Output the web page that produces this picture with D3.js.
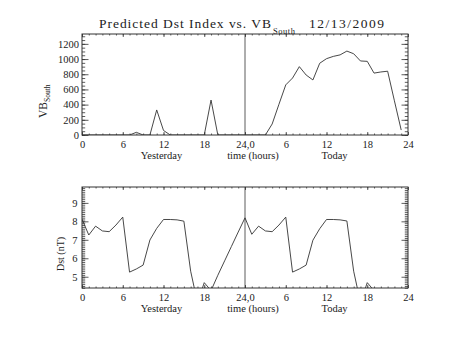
<!DOCTYPE html>
<html><head><meta charset="utf-8">
<script src="https://cdn.jsdelivr.net/npm/d3@7"></script>
<style>
html,body{margin:0;padding:0;background:#fff;}
text{font-family:"Liberation Serif",serif;fill:#222;}
</style></head>
<body><svg id="c" width="453" height="340"></svg>
<script>
// ---- data ----
const hours = d3.range(0, 48);            // 0..23 yesterday, 24..47 today
const xTickValues = [0, 6, 12, 18, 24, 30, 36, 42, 48];
const xTickLabels = ["0", "6", "12", "18", "24,0", "6", "12", "18", "24"];
const vbTicks = [0, 200, 400, 600, 800, 1000, 1200];
const dstTicks = [5, 6, 7, 8, 9];
// VB_South, hourly (yesterday then today)
const vbYesterday = [0,0,0,0,0,0,0,0,35,0,0,330,60,0,0,0,0,0,0,460,0,0,0,0];
const vbToday = [0,0,0,0,145,405,660,750,900,790,725,945,1005,1035,1055,1105,1070,975,970,815,830,840,450,65];
// Dst, hourly (null = no data)
const dstYesterday = [8.12,7.26,7.74,7.48,7.44,7.8,8.23,5.25,5.42,5.63,6.99,7.62,8.1,8.1,8.08,8.01,5.3,3.6,4.68,4.25,5.08,5.86,6.64,7.42];
const dstToday = [8.19,7.3,7.74,7.48,7.44,7.8,8.23,5.25,5.42,5.63,6.98,7.6,8.1,8.1,8.08,8.02,5.3,3.6,4.68,4.25,null,null,null,null];

const vb = hours.map((h,i)=>({h, v: i<24 ? vbYesterday[i] : vbToday[i-24]}));
const dst = hours.map((h,i)=>({h, v: i<24 ? dstYesterday[i] : dstToday[i-24]}));

const svg = d3.select("#c");
const L = 82, R = 408;
const x = d3.scaleLinear().domain([0,48]).range([L,R]);
const panels = [
  {top:34, bot:135, y:d3.scaleLinear().domain([0,1330]).range([135,34]),
   major:vbTicks, minor:d3.range(0,1330,50), data:vb, lblPad:3},
  {top:187, bot:288, y:d3.scaleLinear().domain([4.39,9.86]).range([288,187]),
   major:dstTicks, minor:d3.range(44,99).map(d=>d/10), data:dst, lblPad:4.5}
];
const stroke = "#333";
const FONT = "Liberation Serif";

panels.forEach((p,pi)=>{
  const g = svg.append("g");
  const h = p.bot - p.top, w = R - L;
  const cid = "clip"+pi;
  svg.append("clipPath").attr("id",cid).append("rect")
    .attr("x",L).attr("y",p.top).attr("width",w).attr("height",h);
  const xMajLen = 3, xMinLen = 1.5, yMajLen = 6.5, yMinLen = 3.2;
  const ax = (gen, tr) => g.append("g").attr("transform",tr).call(gen)
      .call(s=>s.select(".domain").remove())
      .call(s=>s.selectAll("line").attr("stroke",stroke).attr("stroke-width",0.8));
  ax(d3.axisBottom(x).tickValues(xTickValues).tickSize(-xMajLen).tickPadding(6)
      .tickFormat((d,i)=>xTickLabels[i]), `translate(0,${p.bot})`)
    .selectAll("text").attr("font-size",10.5).attr("font-family",FONT).attr("fill","#222");
  ax(d3.axisBottom(x).tickValues(hours).tickSize(-xMinLen).tickFormat(""), `translate(0,${p.bot})`);
  ax(d3.axisTop(x).tickValues(xTickValues).tickSize(-xMajLen).tickFormat(""), `translate(0,${p.top})`);
  ax(d3.axisTop(x).tickValues(hours).tickSize(-xMinLen).tickFormat(""), `translate(0,${p.top})`);
  ax(d3.axisLeft(p.y).tickValues(p.major).tickSize(-yMajLen).tickPadding(p.lblPad)
      .tickFormat(d=>d), `translate(${L},0)`)
    .selectAll("text").attr("font-size",10.5).attr("font-family",FONT).attr("fill","#222");
  ax(d3.axisLeft(p.y).tickValues(p.minor).tickSize(-yMinLen).tickFormat(""), `translate(${L},0)`);
  ax(d3.axisRight(p.y).tickValues(p.major).tickSize(-yMajLen).tickFormat(""), `translate(${R},0)`);
  ax(d3.axisRight(p.y).tickValues(p.minor).tickSize(-yMinLen).tickFormat(""), `translate(${R},0)`);
  g.append("rect").attr("x",L).attr("y",p.top).attr("width",w).attr("height",h)
    .attr("fill","none").attr("stroke",stroke).attr("stroke-width",1);
  g.append("line").attr("x1",x(24)).attr("x2",x(24)).attr("y1",p.top).attr("y2",p.bot)
    .attr("stroke",stroke).attr("stroke-width",0.8);
  const line = d3.line().defined(d=>d.v!==null).x(d=>x(d.h)).y(d=>p.y(d.v));
  g.append("path").datum(p.data).attr("clip-path",`url(#${cid})`)
    .attr("d",line).attr("fill","none").attr("stroke",stroke).attr("stroke-width",0.9);
  const yl = p.bot + 24;
  g.append("text").attr("x",161.5).attr("y",yl).attr("text-anchor","middle").attr("font-size",10.5).text("Yesterday");
  g.append("text").attr("x",253).attr("y",yl).attr("text-anchor","middle").attr("font-size",10.5).text("time (hours)");
  g.append("text").attr("x",334.5).attr("y",yl).attr("text-anchor","middle").attr("font-size",10.5).text("Today");
});

// title
svg.append("text").attr("x",99).attr("y",28).attr("font-size",13.5)
  .attr("textLength",172).attr("lengthAdjust","spacing").text("Predicted Dst Index vs. VB");
svg.append("text").attr("x",273).attr("y",34).attr("font-size",8.5)
  .attr("textLength",22).attr("lengthAdjust","spacing").attr("fill","#222").text("South");
svg.append("text").attr("x",309).attr("y",28).attr("font-size",13.5)
  .attr("textLength",75).attr("lengthAdjust","spacing").text("12/13/2009");

// y titles
const yt = svg.append("text").attr("transform","translate(47,118) rotate(-90)").attr("font-size",11.5);
yt.append("tspan").attr("fill","#222").text("VB");
yt.append("tspan").attr("font-size",7.5).attr("dy",3).attr("fill","#222").text("South");
svg.append("text").attr("transform","translate(63.5,254) rotate(-90)").attr("text-anchor","middle")
  .attr("font-size",10).text("Dst (nT)");
</script></body></html>
